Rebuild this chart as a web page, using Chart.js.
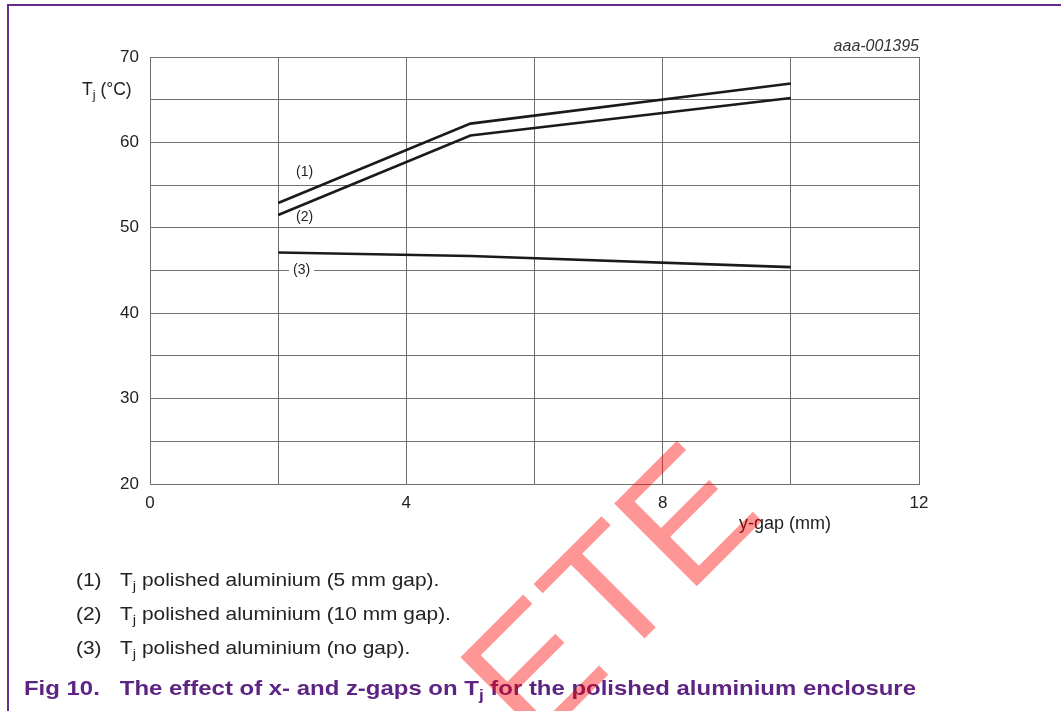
<!DOCTYPE html>
<html>
<head>
<meta charset="utf-8">
<script src="https://cdn.jsdelivr.net/npm/chart.js@4/dist/chart.umd.min.js"></script>
<style>
  html, body { margin: 0; padding: 0; background: #fff; }
  body { width: 1061px; height: 711px; position: relative; overflow: hidden;
         font-family: "Liberation Sans", Arial, Helvetica, sans-serif; color: #222; }
  .abs { position: absolute; white-space: nowrap; }
  .frame { position: absolute; left: 7px; top: 4px; width: 1100px; height: 800px;
           border-left: 2px solid #6a2a8c; border-top: 2px solid #6a2a8c; }
  sub { font-size: 0.72em; vertical-align: -0.3em; line-height: 0; }
  .note { font-size: 19px; line-height: 22px; }
  .note span { position: absolute; left: 0; transform: scaleX(1.1); transform-origin: 0 50%; }
  .note .t { left: 44px; }
  .curve { font-size: 14px; line-height: 16px; background: #fff; padding: 0 4px; }
  .caption { font-size: 21px; font-weight: bold; color: #5e2483; line-height: 24px;
             transform: scaleX(1.14); transform-origin: 0 50%; }
</style>
</head>
<body>
<div class="frame"></div>
<canvas id="tj_chart" width="1061" height="711" style="position:absolute;left:0;top:0"></canvas>

<div class="abs" style="left:82px;top:79px;font-size:17.5px;line-height:20px">T<sub>j</sub> (°C)</div>
<div class="abs" style="left:739px;top:513px;font-size:18px;line-height:20px">y-gap (mm)</div>
<div class="abs" style="right:142px;top:37px;font-size:16px;line-height:18px;font-style:italic;color:#333">aaa-001395</div>

<div class="abs curve" style="left:292px;top:163px;background:none">(1)</div>
<div class="abs curve" style="left:292px;top:208px;background:none">(2)</div>
<div class="abs curve" style="left:289px;top:261px">(3)</div>

<div class="abs note" style="left:76px;top:569px"><span class="n">(1)</span><span class="t">T<sub>j</sub> polished aluminium (5 mm gap).</span></div>
<div class="abs note" style="left:76px;top:603px"><span class="n">(2)</span><span class="t">T<sub>j</sub> polished aluminium (10 mm gap).</span></div>
<div class="abs note" style="left:76px;top:637px"><span class="n">(3)</span><span class="t">T<sub>j</sub> polished aluminium (no gap).</span></div>

<div class="abs caption" style="left:24px;top:676px">Fig 10.&nbsp;&nbsp;&nbsp;The effect of x- and z-gaps on T<sub>j</sub> for the polished aluminium enclosure</div>

<svg width="1061" height="711" style="position:absolute;left:0;top:0;pointer-events:none">
  <text x="299.5" y="983.5" transform="rotate(-45 299.5 983.5)"
        font-family="Liberation Sans, Arial, sans-serif" font-size="170"
        fill="#ff0000" fill-opacity="0.41">DELETE</text>
</svg>

<script>
// y-gap (mm) and junction temperature (°C)
const gaps = [2, 5, 10];
const tj_5mm = [52.9, 62.2, 66.9];
const tj_10mm = [51.5, 60.8, 65.2];
const tj_nogap = [47.1, 46.7, 45.4];

const y_min = 20, y_max = 70, y_step = 5, y_label_every = 10;
const x_min = 0, x_max = 12, x_step = 2, x_label_every = 4;

const toPoints = (vals) => gaps.map((g, i) => ({ x: g, y: vals[i] }));

const tickFont = { family: '"Liberation Sans", Arial, sans-serif', size: 17 };
const gridColor = '#707070';

const lineStyle = {
    borderColor: '#1a1a1a',
    borderWidth: 2.6,
    pointRadius: 0,
    tension: 0,
    fill: false,
};

const ctx_tj = document.getElementById('tj_chart');
const tj_chart = new Chart(ctx_tj, {
    type: 'line',
    data: {
        datasets: [
            { label: '(1)', data: toPoints(tj_5mm), ...lineStyle },
            { label: '(2)', data: toPoints(tj_10mm), ...lineStyle },
            { label: '(3)', data: toPoints(tj_nogap), ...lineStyle },
        ],
    },
    options: {
        responsive: false,
        animation: false,
        layout: { padding: { top: 57, right: 142, bottom: 197, left: 0 } },
        scales: {
            x: {
                type: 'linear',
                min: x_min, max: x_max,
                afterFit: (scale) => { scale.height = 30; },
                grid: { color: gridColor, lineWidth: 1, drawTicks: false },
                border: { color: gridColor },
                ticks: {
                    stepSize: x_step,
                    padding: 9,
                    color: '#222',
                    font: tickFont,
                    maxRotation: 0,
                    callback: (v) => (v % x_label_every === 0 ? v : ''),
                },
            },
            y: {
                min: y_min, max: y_max,
                afterFit: (scale) => { scale.width = 150; },
                grid: { color: gridColor, lineWidth: 1, drawTicks: false },
                border: { color: gridColor },
                ticks: {
                    stepSize: y_step,
                    padding: 11,
                    color: '#222',
                    font: tickFont,
                    callback: (v) => (v % y_label_every === 0 ? v : ''),
                },
            },
        },
        plugins: {
            legend: { display: false },
            tooltip: { enabled: false },
        },
    },
});
</script>
</body>
</html>
